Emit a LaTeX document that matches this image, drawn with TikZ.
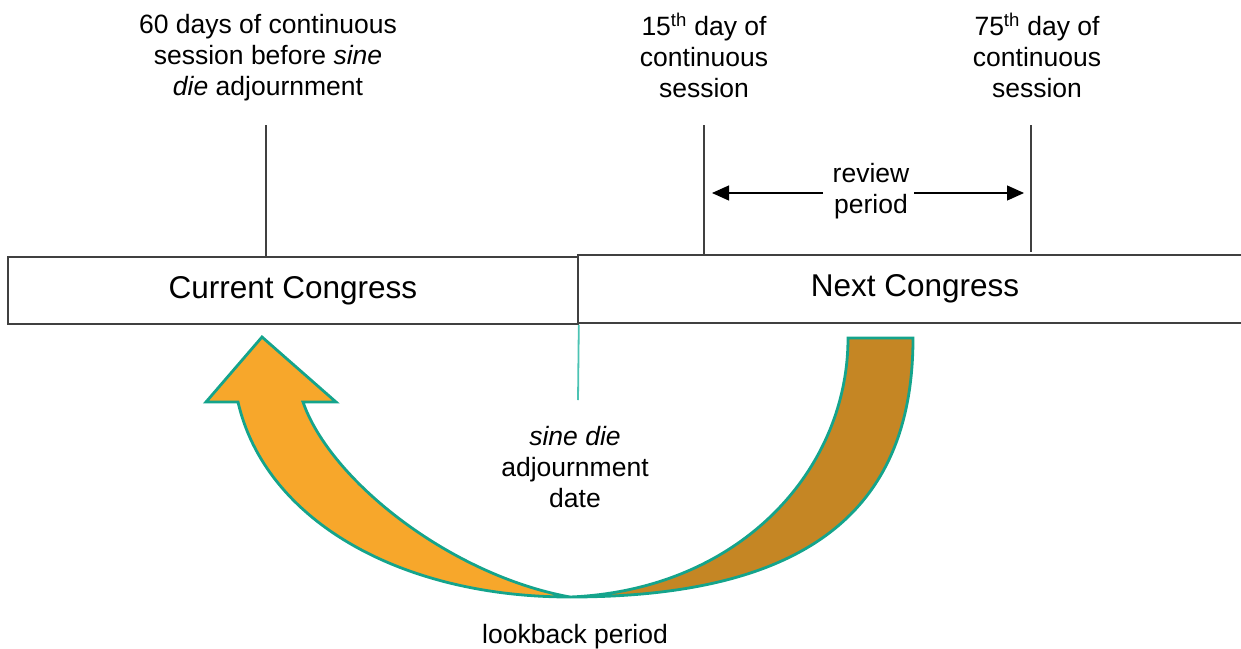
\documentclass[tikz,border=0pt]{standalone}
\usepackage{fontspec}
\setmainfont{Liberation Sans}
\usetikzlibrary{arrows.meta}
\definecolor{lineg}{HTML}{404040}
\definecolor{tealS}{HTML}{14A48C}
\definecolor{tealL}{HTML}{4CC3B3}
\definecolor{orangeF}{HTML}{F7A72B}
\definecolor{brownF}{HTML}{C58624}
\begin{document}
\begin{tikzpicture}[x=1pt,y=-1pt,
 lbl/.style={align=center,font=\fontsize{26.5}{31}\selectfont,inner sep=0pt},
 cbox/.style={draw=lineg,line width=1.6pt,font=\fontsize{31.5}{36}\selectfont,inner sep=0pt},
 tick/.style={draw=lineg,line width=1.4pt},
 rarrow/.style={-{Triangle[length=17pt,width=15pt]},line width=1.2pt,black},
 curved/.style={draw=tealS,line width=2.8pt,line join=miter}
]
\useasboundingbox (0,0) rectangle (1241,648);
\clip (0,0) rectangle (1241,648);
% congress boxes
\node[cbox,minimum width=570pt,minimum height=67pt] (cur) at (293,290.5) {Current Congress};
\node[cbox,minimum width=674pt,minimum height=68pt] (nxt) at (915,289) {Next Congress};
% labels
\node[lbl] (l60) at (268,58) {60 days of continuous\\session before \textit{sine}\\\textit{die} adjournment};
\node[lbl] (l15) at (704,55) {15\textsuperscript{th} day of\\continuous\\session};
\node[lbl] (l75) at (1037,55) {75\textsuperscript{th} day of\\continuous\\session};
\node[lbl] (rp) at (871,191) {review\\period};
\node[lbl] (sd) at (575,467) {\textit{sine die}\\adjournment\\date};
\node[lbl] (lb) at (575,637) {lookback period};
% tick lines
\coordinate (t60) at (266,125);
\coordinate (t15) at (704,125);
\coordinate (t75) at (1031,125);
\draw[tick] (t60) -- (t60 |- cur.north);
\draw[tick] (t15) -- (t15 |- nxt.north);
\draw[tick] (t75) -- ([yshift=2pt]t75 |- nxt.north);
% review period arrows
\coordinate (ra) at (712,193);
\coordinate (rb) at (1024,193);
\coordinate (ra1) at (823,193);
\coordinate (rb1) at (914,193);
\draw[rarrow] (ra1) -- (ra);
\draw[rarrow] (rb1) -- (rb);
% sine die line
\coordinate (sdl) at (578,400);
\draw[tealL,line width=1.8pt] (cur.south east) -- (sdl);
% curved arrows
\draw[curved,fill=orangeF] (262,337) -- (336,402) -- (303,402)
  .. controls (330,480) and (450,575) .. (570,597)
  .. controls (400,597) and (265,520) .. (238,402) -- (206,402) -- cycle;
\draw[curved,fill=brownF] (848,338) -- (913,338)
  .. controls (913,500) and (820,597) .. (570,597)
  .. controls (740,590) and (848,470) .. (848,338) -- cycle;
\end{tikzpicture}
\end{document}
